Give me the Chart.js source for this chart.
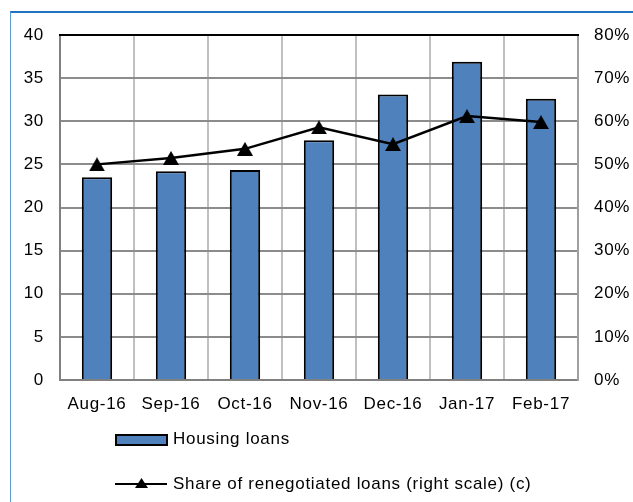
<!DOCTYPE html>
<html>
<head>
<meta charset="utf-8">
<script src="https://cdn.jsdelivr.net/npm/chart.js@4"></script>
<style>
  html, body { margin: 0; padding: 0; background: #fff; }
  #wrap { position: relative; width: 633px; height: 502px; }
  #frame { position: absolute; left: 10px; top: 11px; right: 0; bottom: 0;
           border-top: 2px solid #1f73c0; border-left: 1px solid #5b9bd5; pointer-events: none; }
  canvas { position: absolute; left: 0; top: 0; }
</style>
</head>
<body>
<div id="wrap">
  <canvas id="c" width="633" height="502"></canvas>
  <div id="frame"></div>
</div>
<script>
const categories = ['Aug-16', 'Sep-16', 'Oct-16', 'Nov-16', 'Dec-16', 'Jan-17', 'Feb-17'];
const housingLoans = [23.5, 24.2, 24.35, 27.8, 33.1, 36.9, 32.6];
const renegotiatedShare = [50.0, 51.5, 53.6, 58.6, 54.7, 61.2, 59.8];
const leftTicks = [0, 5, 10, 15, 20, 25, 30, 35, 40];
const rightTicks = [0, 10, 20, 30, 40, 50, 60, 70, 80];
const seriesLabels = ['Housing loans', 'Share of renegotiated loans (right scale) (c)'];

const FONT = "'Liberation Sans', Arial, sans-serif";
const SPACING = '0.7px';

// triangle marker centred on its bounding box (like the original)
function makeTriangle(w, h) {
  const c = document.createElement('canvas');
  c.width = w; c.height = h;
  const g = c.getContext('2d');
  g.fillStyle = '#000';
  g.beginPath();
  g.moveTo(w / 2, 0);
  g.lineTo(w, h);
  g.lineTo(0, h);
  g.closePath();
  g.fill();
  return c;
}
const triMarker = makeTriangle(16, 14);

const decorPlugin = {
  id: 'decor',
  beforeDraw(chart) {
    chart.ctx.letterSpacing = SPACING;
  },
  afterDraw(chart) {
    const ctx = chart.ctx;
    const a = chart.chartArea;
    const bars = chart.data.datasets.find(d => d.type === 'bar');
    const line = chart.data.datasets.find(d => d.type === 'line');
    ctx.save();
    ctx.letterSpacing = SPACING;
    // top border of plot area (black)
    ctx.strokeStyle = '#000';
    ctx.lineWidth = 2;
    ctx.beginPath();
    ctx.moveTo(a.left - 1, a.top);
    ctx.lineTo(a.right + 1, a.top);
    ctx.stroke();

    // legend
    ctx.font = '17px ' + FONT;
    ctx.textBaseline = 'middle';
    ctx.textAlign = 'left';
    // item 1: bar box
    ctx.fillStyle = bars.backgroundColor;
    ctx.fillRect(116, 435, 51, 10);
    ctx.strokeStyle = '#000';
    ctx.lineWidth = 2;
    ctx.strokeRect(116, 435, 51, 10);
    ctx.fillStyle = '#000';
    ctx.fillText(bars.label, 173, 439.5);
    // item 2: line with triangle
    ctx.lineWidth = 2;
    ctx.beginPath();
    ctx.moveTo(115, 484);
    ctx.lineTo(167, 484);
    ctx.stroke();
    ctx.beginPath();
    ctx.moveTo(141.5, 478);
    ctx.lineTo(148, 488);
    ctx.lineTo(135, 488);
    ctx.closePath();
    ctx.fill();
    ctx.fillText(line.label, 173, 484);
    ctx.restore();
  }
};

new Chart(document.getElementById('c'), {
  data: {
    labels: categories,
    datasets: [
      {
        type: 'line',
        label: seriesLabels[1],
        data: renegotiatedShare,
        yAxisID: 'y1',
        borderColor: '#000',
        backgroundColor: '#000',
        borderWidth: 2.5,
        pointStyle: triMarker,
        pointRadius: 9,
        pointHoverRadius: 9,
        tension: 0,
        order: 0
      },
      {
        type: 'bar',
        label: seriesLabels[0],
        data: housingLoans,
        yAxisID: 'y',
        backgroundColor: '#4f81bd',
        borderColor: '#000',
        borderWidth: 2,
        categoryPercentage: 1,
        barPercentage: 0.41,
        order: 1
      }
    ]
  },
  options: {
    responsive: false,
    animation: false,
    events: [],
    layout: { padding: { left: 10, right: 0, top: 35, bottom: 82 } },
    plugins: {
      legend: { display: false },
      tooltip: { enabled: false }
    },
    scales: {
      x: {
        offset: true,
        grid: { display: true, offset: true, color: '#c0c0c0', lineWidth: 2, drawTicks: false },
        border: { display: true, color: '#808080', width: 2 },
        ticks: { color: '#000', font: { family: FONT, size: 17 }, padding: 14, maxRotation: 0, autoSkip: false },
        afterFit(s) { s.height = 40; }
      },
      y: {
        position: 'left',
        min: 0, max: 40,
        afterBuildTicks(s) { s.ticks = leftTicks.map(v => ({ value: v })); },
        grid: { color: '#8c8c8c', lineWidth: 2, drawTicks: false },
        border: { display: true, color: '#808080', width: 2 },
        ticks: { color: '#000', font: { family: FONT, size: 17 }, padding: 16 },
        afterFit(s) { s.width = 50; }
      },
      y1: {
        position: 'right',
        min: 0, max: 80,
        afterBuildTicks(s) { s.ticks = rightTicks.map(v => ({ value: v })); },
        grid: { display: false, drawTicks: false },
        border: { display: true, color: '#a0a0a0', width: 2 },
        ticks: { color: '#000', font: { family: FONT, size: 17 }, padding: 16,
                 callback: v => v + '%' },
        afterFit(s) { s.width = 55; }
      }
    }
  },
  plugins: [decorPlugin]
});
</script>
</body>
</html>
